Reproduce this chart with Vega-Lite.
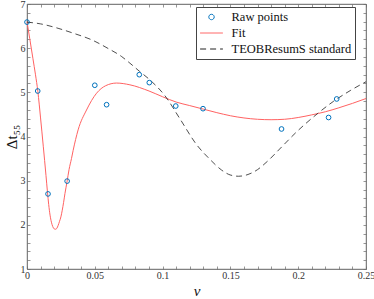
{
  "$schema": "https://vega.github.io/schema/vega-lite/v6.json",
  "width": 339,
  "height": 265,
  "autosize": "none",
  "padding": {"left": 27, "top": 4, "right": 8, "bottom": 30},
  "config": {
    "font": "Liberation Serif, Times New Roman, DejaVu Serif, serif",
    "view": {"stroke": "#6a6a6a", "strokeWidth": 0.7},
    "axis": {
      "domainColor": "#6a6a6a",
      "domainWidth": 0.7,
      "tickColor": "#6a6a6a",
      "tickWidth": 0.7,
      "tickSize": -3,
      "grid": false,
      "labelFont": "Liberation Serif, Times New Roman, DejaVu Serif, serif",
      "labelFontSize": 10,
      "labelColor": "#333333",
      "labelFlush": false,
      "labelOverlap": false,
      "titleFont": "Liberation Serif, Times New Roman, DejaVu Serif, serif",
      "titleFontWeight": "normal",
      "titleColor": "#111111"
    }
  },
  "datasets": {
    "points": [
      {"nu": 0.0, "dt": 6.59},
      {"nu": 0.0079, "dt": 5.03},
      {"nu": 0.0155, "dt": 2.70},
      {"nu": 0.0296, "dt": 2.99},
      {"nu": 0.050, "dt": 5.16},
      {"nu": 0.0587, "dt": 4.72},
      {"nu": 0.0828, "dt": 5.40},
      {"nu": 0.0902, "dt": 5.22},
      {"nu": 0.1097, "dt": 4.69},
      {"nu": 0.1298, "dt": 4.63},
      {"nu": 0.1877, "dt": 4.17},
      {"nu": 0.2224, "dt": 4.43},
      {"nu": 0.2284, "dt": 4.85}
    ],
    "fit": [
      {"nu": 0.0, "dt": 6.6},
      {"nu": 0.002, "dt": 6.22},
      {"nu": 0.0044, "dt": 5.76},
      {"nu": 0.0062, "dt": 5.41},
      {"nu": 0.008, "dt": 5.02},
      {"nu": 0.010, "dt": 4.42},
      {"nu": 0.012, "dt": 3.78},
      {"nu": 0.014, "dt": 3.12},
      {"nu": 0.0151, "dt": 2.74},
      {"nu": 0.016, "dt": 2.46},
      {"nu": 0.017, "dt": 2.22},
      {"nu": 0.018, "dt": 2.06},
      {"nu": 0.019, "dt": 1.96},
      {"nu": 0.020, "dt": 1.91},
      {"nu": 0.021, "dt": 1.90},
      {"nu": 0.022, "dt": 1.92},
      {"nu": 0.023, "dt": 1.99},
      {"nu": 0.024, "dt": 2.08},
      {"nu": 0.025, "dt": 2.18},
      {"nu": 0.026, "dt": 2.33},
      {"nu": 0.027, "dt": 2.51},
      {"nu": 0.028, "dt": 2.71},
      {"nu": 0.0296, "dt": 2.99},
      {"nu": 0.031, "dt": 3.25},
      {"nu": 0.0328, "dt": 3.5},
      {"nu": 0.034, "dt": 3.68},
      {"nu": 0.0377, "dt": 4.15},
      {"nu": 0.0439, "dt": 4.6},
      {"nu": 0.0513, "dt": 4.98},
      {"nu": 0.058, "dt": 5.15},
      {"nu": 0.066, "dt": 5.21},
      {"nu": 0.0759, "dt": 5.17},
      {"nu": 0.09, "dt": 5.03},
      {"nu": 0.10, "dt": 4.9},
      {"nu": 0.11, "dt": 4.78},
      {"nu": 0.12, "dt": 4.70},
      {"nu": 0.13, "dt": 4.62},
      {"nu": 0.14, "dt": 4.54},
      {"nu": 0.15, "dt": 4.47},
      {"nu": 0.16, "dt": 4.42},
      {"nu": 0.17, "dt": 4.39},
      {"nu": 0.18, "dt": 4.38},
      {"nu": 0.19, "dt": 4.39},
      {"nu": 0.20, "dt": 4.43},
      {"nu": 0.21, "dt": 4.49},
      {"nu": 0.22, "dt": 4.56},
      {"nu": 0.23, "dt": 4.65},
      {"nu": 0.24, "dt": 4.75},
      {"nu": 0.25, "dt": 4.86}
    ],
    "teob": [
      {"nu": 0.0, "dt": 6.59},
      {"nu": 0.01, "dt": 6.55},
      {"nu": 0.0229, "dt": 6.45},
      {"nu": 0.035, "dt": 6.33},
      {"nu": 0.0476, "dt": 6.19},
      {"nu": 0.06, "dt": 5.99},
      {"nu": 0.0698, "dt": 5.81},
      {"nu": 0.0759, "dt": 5.66},
      {"nu": 0.0828, "dt": 5.48},
      {"nu": 0.0907, "dt": 5.28},
      {"nu": 0.1018, "dt": 4.92},
      {"nu": 0.1128, "dt": 4.40},
      {"nu": 0.1252, "dt": 3.81},
      {"nu": 0.135, "dt": 3.48},
      {"nu": 0.1435, "dt": 3.24},
      {"nu": 0.1498, "dt": 3.13},
      {"nu": 0.156, "dt": 3.10},
      {"nu": 0.163, "dt": 3.14},
      {"nu": 0.170, "dt": 3.25},
      {"nu": 0.177, "dt": 3.43},
      {"nu": 0.188, "dt": 3.77},
      {"nu": 0.199, "dt": 4.11},
      {"nu": 0.2139, "dt": 4.51},
      {"nu": 0.2262, "dt": 4.8},
      {"nu": 0.2384, "dt": 5.04},
      {"nu": 0.25, "dt": 5.24}
    ]
  },
  "layer": [
    {
      "data": {"name": "fit"},
      "mark": {"type": "line", "strokeWidth": 1, "interpolate": "monotone"},
      "encoding": {
        "x": {
          "field": "nu", "type": "quantitative",
          "scale": {"domain": [0, 0.25], "nice": false, "zero": false},
          "axis": {
            "orient": "bottom",
            "values": [0,0.01,0.02,0.03,0.04,0.05,0.06,0.07,0.08,0.09,0.1,0.11,0.12,0.13,0.14,0.15,0.16,0.17,0.18,0.19,0.2,0.21,0.22,0.23,0.24,0.25],
            "labelExpr": "round(datum.value*100) % 5 == 0 ? format(datum.value, '~g') : ''",
            "labelPadding": 4.5,
            "title": "ν",
            "titleFontSize": 15,
            "titleFontStyle": "italic",
            "titlePadding": 3
          }
        },
        "y": {
          "field": "dt", "type": "quantitative",
          "scale": {"domain": [1, 7], "nice": false, "zero": false},
          "axis": {
            "orient": "left",
            "values": [1,1.2,1.4,1.6,1.8,2,2.2,2.4,2.6,2.8,3,3.2,3.4,3.6,3.8,4,4.2,4.4,4.6,4.8,5,5.2,5.4,5.6,5.8,6,6.2,6.4,6.6,6.8,7],
            "labelExpr": "round(datum.value*5) % 5 == 0 ? format(datum.value, 'd') : ''",
            "labelPadding": 5,
            "title": "Δt₅₅",
            "titleFontSize": 15,
            "titlePadding": 1
          }
        },
        "color": {
          "datum": "Fit", "type": "nominal",
          "scale": {"domain": ["Raw points", "Fit", "TEOBResumS standard"], "range": ["#0072bd", "#ff6262", "#222222"]},
          "legend": {
            "title": null,
            "orient": "none",
            "legendX": 169,
            "legendY": 3,
            "strokeColor": "#444444",
            "fillColor": "#ffffff",
            "padding": 3.5,
            "labelFont": "Liberation Serif, Times New Roman, DejaVu Serif, serif",
            "labelFontSize": 12.5,
            "labelColor": "#111111",
            "labelOffset": 13.5,
            "rowPadding": 3,
            "symbolSize": 144,
            "symbolOffset": 5.5,
            "symbolStrokeWidth": 1,
            "symbolType": {"expr": "datum.value === 'Raw points' ? 'M0.45,0A0.45,0.45,0,1,1,-0.45,0A0.45,0.45,0,1,1,0.45,0Z' : 'M-1.9,0H1.9'"},
            "symbolDash": {"expr": "datum.value === 'TEOBResumS standard' ? [6, 4] : [1, 0]"}
          }
        }
      }
    },
    {
      "data": {"name": "teob"},
      "mark": {"type": "line", "strokeWidth": 0.8, "strokeDash": [6, 4], "interpolate": "monotone"},
      "encoding": {
        "x": {
          "field": "nu", "type": "quantitative",
          "scale": {"domain": [0, 0.25], "nice": false, "zero": false},
          "axis": {
            "orient": "top",
            "values": [0,0.01,0.02,0.03,0.04,0.05,0.06,0.07,0.08,0.09,0.1,0.11,0.12,0.13,0.14,0.15,0.16,0.17,0.18,0.19,0.2,0.21,0.22,0.23,0.24,0.25],
            "labels": false,
            "title": null
          }
        },
        "y": {
          "field": "dt", "type": "quantitative",
          "scale": {"domain": [1, 7], "nice": false, "zero": false},
          "axis": {
            "orient": "right",
            "values": [1,1.2,1.4,1.6,1.8,2,2.2,2.4,2.6,2.8,3,3.2,3.4,3.6,3.8,4,4.2,4.4,4.6,4.8,5,5.2,5.4,5.6,5.8,6,6.2,6.4,6.6,6.8,7],
            "labels": false,
            "title": null
          }
        },
        "color": {"datum": "TEOBResumS standard", "type": "nominal"}
      }
    },
    {
      "data": {"name": "points"},
      "mark": {"type": "point", "shape": "circle", "filled": false, "size": 22, "strokeWidth": 1, "opacity": 1},
      "encoding": {
        "x": {"field": "nu", "type": "quantitative", "axis": null},
        "y": {"field": "dt", "type": "quantitative", "axis": null},
        "color": {"datum": "Raw points", "type": "nominal"}
      }
    }
  ],
  "resolve": {"axis": {"x": "independent", "y": "independent"}}
}
